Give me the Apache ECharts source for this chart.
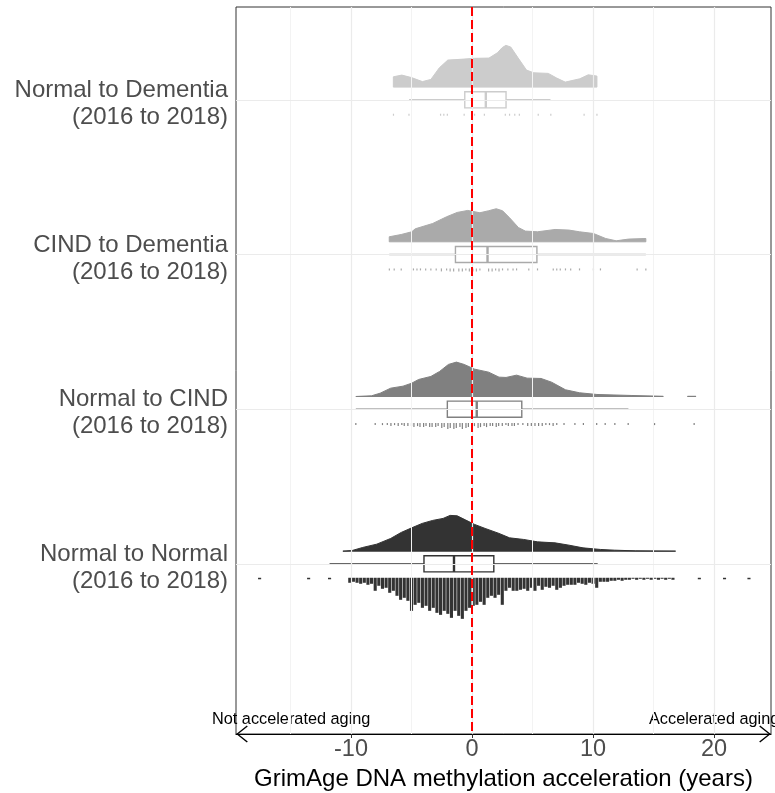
<!DOCTYPE html>
<html><head><meta charset="utf-8">
<script src="https://cdn.jsdelivr.net/npm/echarts@6/dist/echarts.min.js"></script>
<style>html,body{margin:0;padding:0;background:#fff}#c{width:775px;height:793px}</style>
</head><body><div id="c"></div>
<script>
// ---------- data ----------
const rowLabels = ["Normal to Dementia\n(2016 to 2018)", "CIND to Dementia\n(2016 to 2018)", "Normal to CIND\n(2016 to 2018)", "Normal to Normal\n(2016 to 2018)"];
const rowTicks = [1, 2, 3, 4];
const rowColors = ["#CCCCCC", "#AAAAAA", "#808080", "#333333"];
const xTicks = [-10, 0, 10, 20];
const xMajorGrid = [-10, 0, 10, 20];
const xMinorGrid = [-15, -5, 5, 15];
const refLine = [0];

// half-violin densities (x in years, scaled density height)
const densX1 = [-6.5, -5.8, -5.0, -4.1, -3.4, -2.7, -2.0, -1.0, 0.2, 1.4, 2.1, 2.5, 2.8, 3.2, 3.8, 4.5, 5.1, 6.3, 7.0, 7.7, 8.9, 9.6, 10.32];
const densH1 = [10.3, 12.0, 9.5, 5.5, 7.7, 19.3, 27.0, 27.7, 28.7, 29.0, 34.3, 39.5, 41.7, 40.0, 29.3, 17.0, 14.3, 13.7, 9.0, 5.0, 8.3, 12.3, 11.0];
const densX2 = [-6.84, -5.85, -4.98, -4.69, -3.25, -2.1, -1.23, -0.36, 0.65, 1.37, 2.0, 2.52, 3.1, 3.83, 4.4, 5.41, 6.86, 8.01, 8.88, 10.03, 11.04, 11.91, 12.92, 14.36];
const densH2 = [5.0, 7.3, 10.0, 13.0, 18.3, 25.0, 29.3, 31.3, 29.0, 31.0, 33.0, 31.0, 24.0, 14.3, 10.7, 10.0, 12.3, 11.7, 10.0, 8.3, 3.3, 1.0, 2.7, 3.3];
const densX3 = [-9.6, -8.3, -7.59, -6.72, -5.7, -4.98, -4.41, -3.4, -2.68, -1.95, -1.29, -0.65, 0.21, 1.37, 2.23, 2.81, 3.68, 4.55, 5.7, 6.57, 7.72, 8.88, 10.32, 13.21, 15.8, null, 17.8, 18.5];
const densH3 = [0, 0.7, 3.3, 8.3, 10.3, 13.3, 17.0, 20.0, 25.0, 32.0, 34.3, 32.0, 27.3, 24.3, 19.3, 19.0, 21.3, 18.3, 18.0, 14.3, 6.7, 3.7, 2.0, 1.0, 0.2, null, 0.2, 0.2];
const densX4 = [-10.67, -9.89, -9.03, -7.87, -6.72, -5.85, -4.98, -4.12, -3.25, -2.39, -1.81, -1.23, -0.51, 0.21, 1.08, 2.23, 3.1, 4.26, 5.41, 6.86, 8.01, 9.17, 10.61, 11.77, 13.5, 16.82];
const densH4 = [0, 0.7, 3.7, 7.0, 12.7, 18.7, 23.3, 27.7, 30.7, 32.7, 35.7, 35.3, 31.0, 26.7, 22.7, 17.7, 13.3, 11.7, 9.3, 8.3, 6.0, 3.3, 1.7, 1.0, 0.3, 0];

// boxplot stats: [lower whisker, Q1, median, Q3, upper whisker]
const box1 = [-5.2, -0.6, 1.14, 2.81, 6.48];
const box2 = [-6.84, -1.37, 1.28, 5.36, 14.36];
const box3 = [-9.6, -2.04, 0.39, 4.11, 12.92];
const box4 = [-11.77, -3.97, -1.49, 1.8, 10.38];

// rain (stacked points): x in years, stack height
const rainX1 = [-6.49, -5.21, -2.6, -2.33, -2.04, -0.65, 0.21, 1.02, 2.75, 3.1, 3.53, 3.91, 5.47, 6.51, 9.26, 10.32];
const rainN1 = [2, 2, 2, 2, 2, 2, 2, 2, 2, 2, 2, 2, 2, 2, 2, 2];
const rainX2 = [-6.83, -6.43, -5.85, -4.84, -4.55, -4.26, -3.83, -3.4, -2.96, -2.53, -2.1, -1.81, -1.52, -1.09, -0.8, -0.51, -0.22, 0.07, 0.36, 0.65, 1.37, 1.66, 1.95, 2.23, 2.52, 2.96, 3.39, 3.68, 4.69, 5.41, 6.71, 7.0, 7.29, 7.72, 8.15, 8.88, 10.03, 10.61, 13.64, 14.36];
const rainN2 = [2, 2, 2, 2, 2, 2, 2, 2, 2, 3, 2, 3, 3, 3, 3, 2, 3, 3, 3, 2, 3, 3, 2, 3, 2, 2, 2, 2, 2, 2, 2, 2, 2, 2, 2, 2, 2, 2, 2, 2];
const rainX3 = [-9.6, -8.0, -7.4, -7.0, -6.7, -6.4, -6.1, -5.8, -5.6, -5.3, -5.0, -4.8, -4.5, -4.3, -4.0, -3.8, -3.5, -3.3, -3.0, -2.8, -2.5, -2.3, -2.0, -1.8, -1.5, -1.3, -1.0, -0.8, -0.5, -0.3, 0.0, 0.2, 0.5, 0.7, 1.0, 1.2, 1.5, 1.7, 2.0, 2.2, 2.5, 2.8, 3.0, 3.3, 3.5, 3.8, 4.2, 4.6, 4.9, 5.2, 5.5, 5.8, 6.1, 6.4, 6.7, 7.0, 7.6, 8.5, 9.2, 10.3, 11.0, 11.8, 12.9, 15.08, 18.35];
const rainN3 = [2, 2, 2, 2, 3, 2, 3, 2, 3, 3, 3, 4, 3, 4, 4, 3, 4, 4, 4, 3, 5, 4, 6, 5, 6, 5, 4, 6, 5, 4, 5, 3, 5, 4, 3, 4, 3, 3, 4, 3, 3, 2, 3, 3, 3, 2, 2, 3, 3, 3, 3, 3, 2, 2, 3, 2, 2, 2, 2, 2, 2, 2, 2, 2, 2];
const rainX4 = [-17.55, -13.5, -11.77, -10.1, -9.8, -9.5, -9.2, -8.9, -8.6, -8.3, -8.0, -7.7, -7.4, -7.1, -6.8, -6.5, -6.2, -5.9, -5.6, -5.3, -5.0, -4.7, -4.4, -4.1, -3.8, -3.5, -3.2, -2.9, -2.6, -2.3, -2.0, -1.7, -1.4, -1.1, -0.8, -0.5, -0.2, 0.1, 0.4, 0.7, 1.0, 1.3, 1.6, 1.9, 2.2, 2.5, 2.8, 3.1, 3.4, 3.7, 4.0, 4.3, 4.6, 4.9, 5.2, 5.5, 5.8, 6.1, 6.4, 6.7, 7.0, 7.3, 7.6, 7.9, 8.2, 8.5, 8.8, 9.1, 9.4, 9.7, 10.0, 10.3, 10.6, 10.9, 11.2, 11.5, 11.8, 12.1, 12.4, 12.7, 13.0, 13.3, 13.6, 13.9, 14.2, 14.5, 14.8, 15.1, 15.4, 15.7, 16.0, 16.3, 16.6, 18.78, 20.86, 22.88];
const rainN4 = [1.5, 1.5, 1.5, 5, 4, 5, 6, 5, 7, 6, 13, 8, 11, 10, 15, 13, 18, 22, 20, 23, 33, 27, 25, 30, 28, 33, 30, 35, 37, 33, 36, 40, 33, 38, 41, 33, 30, 28, 27, 24, 27, 20, 18, 20, 17, 27, 13, 10, 13, 13, 12, 11, 13, 10, 13, 8, 12, 9, 10, 8, 12, 10, 8, 7, 7, 7, 5, 6, 7, 5, 6, 10, 4, 4, 4, 3, 3, 2, 3, 2, 2, 1, 2, 1, 2, 1, 2, 1, 2, 1, 2, 1, 2, 1.5, 1.5, 1.5];

// ---------- helpers ----------
const densX = [densX1, densX2, densX3, densX4];
const densH = [densH1, densH2, densH3, densH4];
const boxes = [box1, box2, box3, box4];
const rainX = [rainX1, rainX2, rainX3, rainX4];
const rainN = [rainN1, rainN2, rainN3, rainN4];

const ROW_PX = 154.4;
const DENS_K = 1 / ROW_PX;   // density unit -> row units
const STACK_K = 1 / ROW_PX;  // stack unit -> row units
const BASE_OFF = 0.082, BOX_HALF = 0.052, RUG_OFF = 0.09;
const LABEL_NUDGE = 0.026;   // small downward nudge of the two-line category labels
const FONT = "'Liberation Sans', Arial, sans-serif";

function densityRender(params, api) {
  const i = params.dataIndex, row = rowTicks[i], color = rowColors[i];
  const xs = densX[i], hs = densH[i];
  const base = row - BASE_OFF;
  const children = [];
  let seg = [];
  const flush = () => {
    if (seg.length) {
      const pts = [api.coord([seg[0][0], base])];
      seg.forEach(p => pts.push(api.coord([p[0], base - p[1] * DENS_K])));
      pts.push(api.coord([seg[seg.length - 1][0], base]));
      children.push({ type: 'polygon', shape: { points: pts }, style: { fill: color, stroke: color, lineWidth: 1 } });
    }
    seg = [];
  };
  xs.forEach((x, k) => { if (x === null) flush(); else seg.push([x, hs[k]]); });
  flush();
  return { type: 'group', children };
}

function boxRender(params, api) {
  const i = params.dataIndex, row = rowTicks[i], color = rowColors[i], b = boxes[i];
  const pLo = api.coord([b[0], row]), pHi = api.coord([b[4], row]);
  const q1t = api.coord([b[1], row - BOX_HALF]), q3b = api.coord([b[3], row + BOX_HALF]);
  const mt = api.coord([b[2], row - BOX_HALF]), mb = api.coord([b[2], row + BOX_HALF]);
  const ls = { stroke: color, lineWidth: 1.4 };
  return { type: 'group', children: [
    { type: 'line', shape: { x1: pLo[0], y1: pLo[1], x2: q1t[0], y2: pLo[1] }, style: ls },
    { type: 'line', shape: { x1: q3b[0], y1: pHi[1], x2: pHi[0], y2: pHi[1] }, style: ls },
    { type: 'rect', shape: { x: q1t[0], y: q1t[1], width: q3b[0] - q1t[0], height: q3b[1] - q1t[1] }, style: { fill: '#fff', stroke: color, lineWidth: 1.4 } },
    { type: 'line', shape: { x1: mt[0], y1: mt[1], x2: mb[0], y2: mb[1] }, style: { stroke: color, lineWidth: 2.4 } }
  ]};
}

const rainData = [];
rowTicks.forEach((row, i) => rainX[i].forEach((x, k) => rainData.push([x, row, rainN[i][k], i])));
function rainRender(params, api) {
  const x = api.value(0), row = api.value(1), n = api.value(2), i = api.value(3);
  const top = api.coord([x, row + RUG_OFF]);
  const bot = api.coord([x, row + RUG_OFF + n * STACK_K]);
  const w = i === 3 ? 3.1 : 1.2;
  return { type: 'rect', shape: { x: top[0] - w / 2, y: top[1], width: w, height: Math.max(1, bot[1] - top[1]) }, style: { fill: rowColors[i] } };
}

const chart = echarts.init(document.getElementById('c'), null, { renderer: 'canvas' });
chart.setOption({
  animation: false,
  backgroundColor: '#ffffff',
  grid: { left: 236, right: 4, top: 7, bottom: 59, show: true, borderColor: '#333333', borderWidth: 1, containLabel: false, outerBoundsMode: 'none' },
  xAxis: {
    type: 'value', min: -19.5, max: 24.7,
    name: 'GrimAge DNA methylation acceleration (years)', nameLocation: 'middle', nameGap: 30,
    nameTextStyle: { fontFamily: FONT, fontSize: 24, color: '#000' },
    axisLine: { show: true, onZero: false, lineStyle: { color: '#000', width: 1.2 },
      symbol: ['path://M10,0 L20,12.5 L18.8,13.6 L10,2.4 L1.2,13.6 L0,12.5 Z', 'path://M10,0 L20,12.5 L18.8,13.6 L10,2.4 L1.2,13.6 L0,12.5 Z'],
      symbolSize: [17, 12], symbolOffset: [6, -6] },
    axisTick: { show: true, customValues: xTicks, length: 4, lineStyle: { color: '#333' } },
    axisLabel: { customValues: xTicks, fontFamily: FONT, fontSize: 23.5, color: '#4D4D4D', margin: 4 },
    splitLine: { show: false }
  },
  yAxis: {
    type: 'value', inverse: true, min: 0.4, max: 5.1,
    axisLine: { show: false },
    axisTick: { show: true, customValues: rowTicks, length: 4, lineStyle: { color: '#333' } },
    axisLabel: { customValues: rowTicks.map(r => r + LABEL_NUDGE), fontFamily: FONT, fontSize: 24, lineHeight: 27, color: '#4D4D4D', margin: 8, align: 'right',
      formatter: v => rowLabels[Math.round(v) - 1] || '' },
    splitLine: { show: false }
  },
  graphic: [
    { type: 'text', left: 212, top: 712, style: { text: 'Not accelerated aging', font: '16.3px ' + FONT, fill: '#000' } },
    { type: 'text', left: 649, top: 712, style: { text: 'Accelerated aging', font: '16.3px ' + FONT, fill: '#000' } }
  ],
  series: [
    { type: 'line', z: 1, data: [[0, 1]], showSymbol: false, lineStyle: { opacity: 0 }, silent: true,
      markLine: { silent: true, symbol: 'none', label: { show: false }, animation: false,
        data: xMinorGrid.map(v => ({ xAxis: v, lineStyle: { color: '#F3F3F3', width: 1, type: 'solid' } }))
          .concat(xMajorGrid.map(v => ({ xAxis: v, lineStyle: { color: '#EBEBEB', width: 1.2, type: 'solid' } })))
          .concat(rowTicks.map(v => ({ yAxis: v, lineStyle: { color: '#EBEBEB', width: 1.2, type: 'solid' } }))) } },
    { type: 'custom', z: 2, renderItem: densityRender, data: rowTicks.map(r => [0, r]), encode: { x: 0, y: 1 }, silent: true },
    { type: 'custom', z: 3, renderItem: boxRender, data: rowTicks.map(r => [0, r]), encode: { x: 0, y: 1 }, silent: true },
    { type: 'custom', z: 3, renderItem: rainRender, data: rainData, encode: { x: 0, y: 1 }, silent: true },
    { type: 'line', z: 10, data: [[0, 1]], showSymbol: false, lineStyle: { opacity: 0 }, silent: true,
      markLine: { silent: true, symbol: 'none', label: { show: false }, animation: false,
        data: refLine.map(v => ({ xAxis: v })), lineStyle: { color: '#FF0000', width: 2, type: [9, 4] } } }
  ]
});
</script></body></html>
